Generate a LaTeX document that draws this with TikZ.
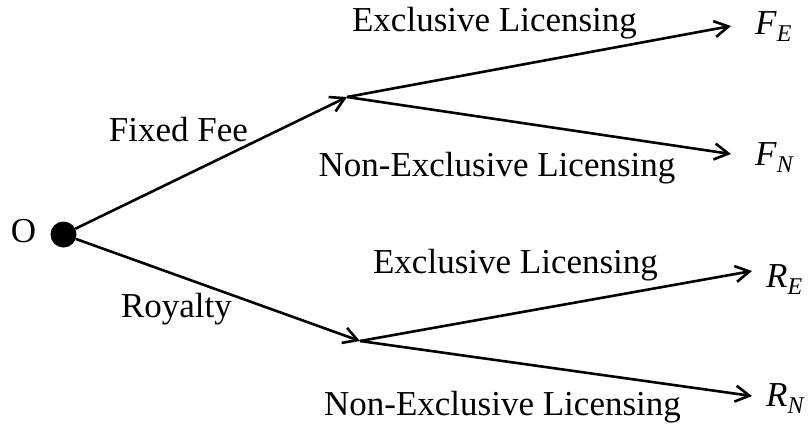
\documentclass[tikz,border=0pt]{standalone}
\usepackage{fontspec}
\setmainfont{Liberation Serif}
\usetikzlibrary{arrows.meta,positioning}
\newcommand{\payoff}[2]{\textit{#1}\raisebox{-7pt}{\fontsize{24}{24}\selectfont\textit{#2}}}
\begin{document}
\begin{tikzpicture}[x=1pt,y=-1pt,
    branch/.style={line width=2.6pt,-{Straight Barb[length=14pt,width=16pt]}},
    lbl/.style={font=\fontsize{35}{40}\selectfont,anchor=base,inner sep=0pt},
    outcome/.style={font=\fontsize{35}{40}\selectfont,anchor=base west,inner sep=0pt}]
    \useasboundingbox (0,0) rectangle (808,428);
    % decision points
    \node[circle,fill=black,minimum size=26pt,inner sep=0pt] (root) at (63.5,234.5) {};
    \node[font=\fontsize{35}{40}\selectfont,inner sep=0pt] (start) at (23.5,231.5) {O};
    \coordinate (fee) at (347,97);
    \coordinate (roy) at (360,341);
    % arrow ends
    \coordinate (tipFE) at (731,26);
    \coordinate (tipFN) at (731,154);
    \coordinate (tipRE) at (752,271);
    \coordinate (tipRN) at (752,396);
    % outcomes
    \node[outcome] (FE) at (755,35) {\payoff{F}{E}};
    \node[outcome] (FN) at (755,165) {\payoff{F}{N}};
    \node[outcome] (RE) at (766,287) {\payoff{R}{E}};
    \node[outcome] (RN) at (766,406) {\payoff{R}{N}};
    % branches
    \draw[branch] (root) -- (fee);
    \draw[branch] (root) -- (roy);
    \draw[branch] (fee) -- (tipFE);
    \draw[branch] (fee) -- (tipFN);
    \draw[branch] (roy) -- (tipRE);
    \draw[branch] (roy) -- (tipRN);
    % text
    \node[lbl] (feeLbl) at (178.5,141) {Fixed Fee};
    \node[lbl] (royLbl) at (176.5,317) {Royalty};
    \node[lbl] (feeEx) at (494.5,32) {Exclusive Licensing};
    \node[lbl] (feeNon) at (497,176) {Non-Exclusive Licensing};
    \node[lbl] (royEx) at (515.5,273) {Exclusive Licensing};
    \node[lbl] (royNon) at (502.5,415) {Non-Exclusive Licensing};
\end{tikzpicture}
\end{document}
